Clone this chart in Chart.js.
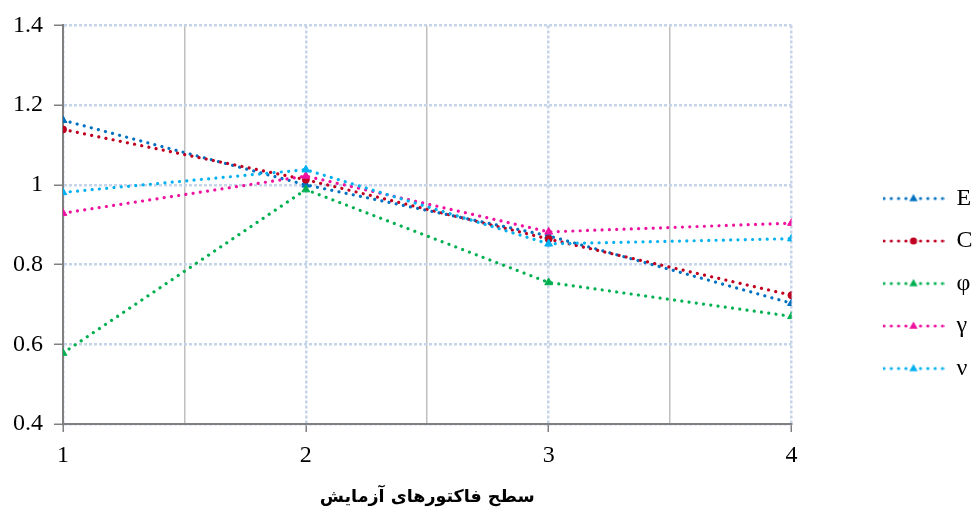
<!DOCTYPE html>
<html>
<head>
<meta charset="utf-8">
<script src="https://cdn.jsdelivr.net/npm/chart.js@4.4.0/dist/chart.umd.min.js"></script>
<style>
  html, body { margin: 0; padding: 0; background: #fff; }
</style>
</head>
<body>
<canvas id="chart" width="972" height="508"></canvas>
<script>
// levels on the x axis and the five series
const levels = [1, 2, 3, 4];
const seriesNames = ['E', 'C', 'φ', 'γ', 'ν'];
const valuesE = [1.162, 1.0, 0.872, 0.703];
const valuesC = [1.139, 1.013, 0.864, 0.723];
const valuesPhi = [0.578, 0.988, 0.755, 0.670];
const valuesGamma = [0.929, 1.022, 0.882, 0.904];
const valuesNu = [0.981, 1.038, 0.852, 0.865];
const xGridValues = [1, 1.5, 2, 2.5, 3, 3.5, 4];
const yTicks = [0.4, 0.6, 0.8, 1, 1.2, 1.4];
const xTitle = 'سطح فاکتورهای آزمایش';

const colors = ['#0070C0', '#C00020', '#00B050', '#EE12A0', '#00B0F0'];
const markers = ['triangle', 'circle', 'triangle', 'triangle', 'triangle'];
const allValues = [valuesE, valuesC, valuesPhi, valuesGamma, valuesNu];

const dotted = '#C5D4E8';
const solidGrid = '#BFBFBF';
const axisGray = '#808080';

function toPoints(vals) {
    return vals.map((v, i) => ({ x: levels[i], y: v }));
}

// small picture for the legend: dotted line with the marker in the middle
function legendIcon(color, marker) {
    const c = document.createElement('canvas');
    c.width = 62;
    c.height = 14;
    const g = c.getContext('2d');
    g.strokeStyle = color;
    g.fillStyle = color;
    g.lineWidth = 3.2;
    g.lineCap = 'round';
    g.setLineDash([0.01, 7.3]);
    g.beginPath();
    g.moveTo(1.5, 7);
    g.lineTo(61, 7);
    g.stroke();
    g.setLineDash([]);
    g.beginPath();
    if (marker === 'circle') {
        g.arc(31, 7, 3.6, 0, Math.PI * 2);
    } else {
        g.moveTo(31, 2.5);
        g.lineTo(35.2, 9.8);
        g.lineTo(26.8, 9.8);
        g.closePath();
    }
    g.fill();
    return c;
}

const datasets = seriesNames.map((name, i) => ({
    label: name,
    data: toPoints(allValues[i]),
    borderColor: colors[i],
    backgroundColor: colors[i],
    borderWidth: 3.2,
    borderDash: [0.01, 7.3],
    borderCapStyle: 'round',
    pointStyle: markers[i],
    pointRadius: markers[i] === 'circle' ? 3.5 : 4.5,
    pointBorderWidth: 1,
    pointBackgroundColor: colors[i],
    pointBorderColor: colors[i],
    tension: 0,
    order: seriesNames.length - i
}));

const legendPlace = {
    id: 'legendPlace',
    afterLayout(chart) {
        const lg = chart.legend;
        const dx = 864 - lg.left;
        const dy = 168 - lg.top;
        lg.left += dx; lg.right += dx;
        lg.top += dy; lg.bottom += dy;
    }
};

const isLevel = v => Number.isInteger(v);

new Chart(document.getElementById('chart'), {
    type: 'line',
    data: { datasets: datasets },
    plugins: [legendPlace],
    options: {
        responsive: false,
        animation: false,
        layout: { padding: { top: 23, right: 62, left: 0, bottom: 0 } },
        plugins: {
            tooltip: { enabled: false },
            legend: {
                position: 'right',
                align: 'start',
                labels: {
                    usePointStyle: true,
                    pointStyleWidth: 62,
                    padding: 18.5,
                    color: '#000',
                    font: { family: 'Liberation Serif', size: 24 },
                    generateLabels(chart) {
                        return chart.data.datasets.map((ds, i) => ({
                            text: ds.label,
                            pointStyle: legendIcon(colors[i], markers[i]),
                            fillStyle: colors[i],
                            strokeStyle: colors[i],
                            lineWidth: 0,
                            fontColor: '#000',
                            hidden: false,
                            datasetIndex: i
                        }));
                    }
                }
            }
        },
        scales: {
            x: {
                type: 'linear',
                min: 1,
                max: 4,
                afterBuildTicks(scale) {
                    scale.ticks = xGridValues.map(v => ({ value: v }));
                },
                afterFit(scale) { scale.height = 84; },
                ticks: {
                    autoSkip: false,
                    maxRotation: 0,
                    padding: 9,
                    color: '#000',
                    font: { family: 'Liberation Serif', size: 24 },
                    callback: v => isLevel(v) ? String(v) : ''
                },
                grid: {
                    color: ctx => isLevel(ctx.tick.value) ? dotted : solidGrid,
                    lineWidth: ctx => isLevel(ctx.tick.value) ? 2.5 : 1.5,
                    tickColor: ctx => isLevel(ctx.tick.value) ? axisGray : 'rgba(0,0,0,0)',
                    tickLength: 8,
                    tickWidth: 1.5
                },
                border: {
                    color: axisGray,
                    width: 2,
                    dash: ctx => (ctx.tick && isLevel(ctx.tick.value)) ? [3, 2] : []
                },
                title: {
                    display: true,
                    text: xTitle,
                    color: '#000',
                    font: { family: 'DejaVu Sans', size: 17.5, weight: 'bold' },
                    padding: { top: 0, bottom: 0 }
                }
            },
            y: {
                min: 0.4,
                max: 1.4,
                afterBuildTicks(scale) {
                    scale.ticks = yTicks.map(v => ({ value: v }));
                },
                afterFit(scale) { scale.width = 63; },
                ticks: {
                    padding: 11,
                    color: '#000',
                    font: { family: 'Liberation Serif', size: 24 },
                    callback: v => String(Math.round(v * 10) / 10)
                },
                grid: {
                    color: dotted,
                    lineWidth: 2.5,
                    tickColor: axisGray,
                    tickLength: 9,
                    tickWidth: 1.5
                },
                border: {
                    color: axisGray,
                    width: 2,
                    dash: ctx => ctx.tick ? [3, 2] : []
                }
            }
        }
    }
});
</script>
</body>
</html>
